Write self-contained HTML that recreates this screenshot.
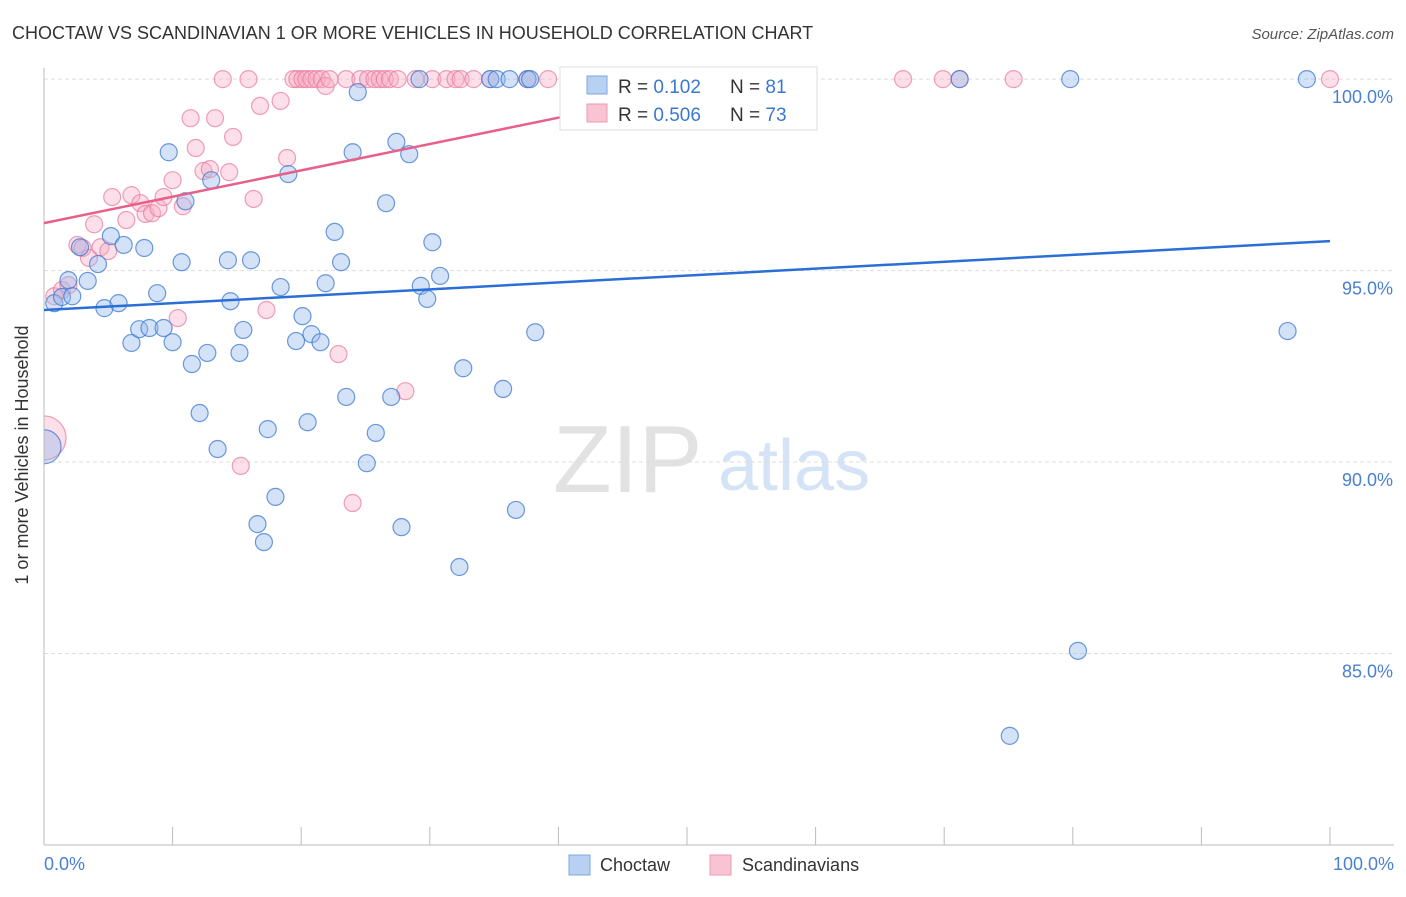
<!DOCTYPE html>
<html><head><meta charset="utf-8"><style>
body{margin:0;background:#fff;font-family:"Liberation Sans",sans-serif;}
svg text{font-family:"Liberation Sans",sans-serif;}
</style></head><body>
<svg width="1406" height="892" viewBox="0 0 1406 892">
<g>
<text x="553" y="492" font-size="96" fill="#e2e2e2" font-family="Liberation Serif, serif">ZIP</text>
<text x="718" y="490" font-size="72" fill="#d4e3f5">atlas</text>
</g>
<g id="grid"></g>
<g id="pts"></g>
<rect x="0" y="60" width="43.5" height="790" fill="#fff"/>
<text x="12" y="39" font-size="18" fill="#333">CHOCTAW VS SCANDINAVIAN 1 OR MORE VEHICLES IN HOUSEHOLD CORRELATION CHART</text>
<text x="1394" y="39" font-size="15" fill="#555" font-style="italic" text-anchor="end">Source: ZipAtlas.com</text>
<line x1="44" y1="68" x2="44" y2="845" stroke="#bbb"/>
<line x1="44" y1="845" x2="1394" y2="845" stroke="#bbb"/>
<g id="xticks"></g>
<text x="28" y="455" font-size="18" fill="#333" text-anchor="middle" transform="rotate(-90 28 455)">1 or more Vehicles in Household</text>
<text x="44" y="870" font-size="18" fill="#4a80d0">0.0%</text>
<text x="1394" y="870" font-size="18" fill="#4a80d0" text-anchor="end">100.0%</text>
<g id="lines"></g>
<g>
<rect x="560" y="67" width="257" height="63" fill="#fff" stroke="#ddd"/>
<rect x="587" y="76" width="20" height="18" fill="#b8d0f2" stroke="#7fa6de"/>
<rect x="587" y="104" width="20" height="18" fill="#f8c4d3" stroke="#ec9ab2"/>
<text x="618" y="93" font-size="19" fill="#333">R = <tspan fill="#3a78d0">0.102</tspan></text>
<text x="730" y="93" font-size="19" fill="#333">N = <tspan fill="#3a78d0">81</tspan></text>
<text x="618" y="121" font-size="19" fill="#333">R = <tspan fill="#3a78d0">0.506</tspan></text>
<text x="730" y="121" font-size="19" fill="#333">N = <tspan fill="#3a78d0">73</tspan></text>
</g>
<g>
<rect x="569" y="855" width="21" height="20" fill="#b8d0f2" stroke="#7fa6de"/>
<text x="600" y="871" font-size="18" fill="#333">Choctaw</text>
<rect x="710" y="855" width="21" height="20" fill="#f8c4d3" stroke="#ec9ab2"/>
<text x="742" y="871" font-size="18" fill="#333">Scandinavians</text>
</g>
</svg>
<script>
const yTicks=[100,95,90,85];
const yTickLabels=["100.0%","95.0%","90.0%","85.0%"];
const xTicks=[0,10,20,30,40,50,60,70,80,90,100];
const blueX=[0.8,1.9,1.4,2.2,2.8,3.4,4.2,4.7,5.2,5.8,6.2,6.8,7.4,7.8,8.2,8.8,9.3,9.7,10.0,10.7,11.0,11.5,12.1,12.7,13.0,13.5,14.3,14.5,15.2,15.5,16.1,16.6,17.1,17.4,18.0,18.4,19.0,19.6,20.1,20.5,20.8,21.5,21.9,22.6,23.1,23.5,24.0,24.4,25.1,25.8,26.6,27.0,27.4,27.8,28.4,29.2,29.3,29.8,30.2,30.8,32.3,32.6,34.7,35.2,35.7,36.2,36.7,37.6,37.8,38.2,71.2,75.1,79.8,80.4,96.7,98.2,0];
const blueY=[94.15,94.75,94.31,94.33,95.61,94.73,95.17,94.02,95.90,94.15,95.67,93.11,93.47,95.59,93.50,94.41,93.50,98.09,93.13,95.22,96.81,92.56,91.28,92.85,97.36,90.34,95.27,94.20,92.85,93.45,95.27,88.38,87.91,90.86,89.09,94.57,97.52,93.16,93.81,91.04,93.34,93.13,94.67,96.01,95.22,91.70,98.09,99.66,89.97,90.76,96.76,91.70,98.36,88.30,98.04,100,94.60,94.26,95.74,94.86,87.26,92.45,100,100,91.91,100,88.75,100,100,93.39,100,82.85,100,85.07,93.42,100,90.40];
const pinkX=[0.8,1.4,1.9,2.6,3.0,3.5,3.9,4.4,5.0,5.3,6.4,6.8,7.5,7.9,8.4,8.9,9.3,10.0,10.4,10.8,11.4,11.8,12.4,12.9,13.3,13.9,14.4,14.7,15.3,15.9,16.3,16.8,17.3,18.4,18.9,19.4,19.7,20.1,20.4,20.8,21.2,21.6,21.9,22.2,22.9,23.5,24.0,24.6,25.2,25.7,26.1,26.5,26.9,27.5,28.1,28.9,30.2,31.3,32.0,32.4,33.4,34.7,37.6,39.2,42.1,46.3,52.6,54.9,66.8,69.9,71.2,75.4,100,0];
const pinkY=[94.33,94.49,94.62,95.67,95.59,95.33,96.21,95.61,95.51,96.92,96.32,96.97,96.76,96.48,96.50,96.63,96.92,97.36,93.76,96.68,98.98,98.20,97.60,97.65,98.98,100,97.57,98.49,89.90,100,96.87,99.30,93.97,99.43,97.94,100,100,100,100,100,100,100,99.82,100,92.82,100,88.93,100,100,100,100,100,100,100,91.85,100,100,100,100,100,100,100,100,100,100,100,100,100,100,100,100,100,100,90.63];
const blueLine=[0,93.97,100,95.77];
const pinkLine=[0,96.24,52.6,99.86];
const NS="http://www.w3.org/2000/svg";
const X0=44,X1=1330,YB=845,YT=68,YMIN=80,YMAX=100.29;
function sx(v){return X0+(X1-X0)*v/100;}
function sy(v){return YB-(YB-YT)*(v-YMIN)/(YMAX-YMIN);}
function mk(t,a){const e=document.createElementNS(NS,t);for(const k in a)e.setAttribute(k,a[k]);return e;}
const grid=document.getElementById('grid');
yTicks.forEach((t,i)=>{
 const l=mk('line',{x1:44,x2:1394,y1:sy(t),y2:sy(t),stroke:'#ddd','stroke-dasharray':'4,3'});
 
 
 grid.appendChild(l);
 const tx=mk('text',{x:1393,y:sy(t)+24,'font-size':18,fill:'#4a80d0','text-anchor':'end'});
 tx.textContent=yTickLabels[i];
 
 
 grid.appendChild(tx);
});
const xt=document.getElementById('xticks');
xTicks.forEach(t=>{
 const l=mk('line',{x1:sx(t),x2:sx(t),y1:827,y2:845,stroke:'#bbb'});
 
 
 xt.appendChild(l);
});
const pts=document.getElementById('pts');
function dot(x,y,big,c){
 const r=big?(c==='b'?17:22):8.5;
 const e=mk('circle',{cx:sx(x),cy:sy(y),r:r,fill:c==='b'?'rgba(150,186,236,0.42)':'rgba(246,170,194,0.38)',stroke:c==='b'?'rgba(60,120,210,0.75)':'rgba(232,120,155,0.7)','stroke-width':1.2});
 return e;
}
pinkX.forEach((x,i)=>{const e=dot(x,pinkY[i],i===pinkX.length-1,'p');
 
 
 pts.appendChild(e);});
blueX.forEach((x,i)=>{const e=dot(x,blueY[i],i===blueX.length-1,'b');
 
 
 pts.appendChild(e);});
const lines=document.getElementById('lines');
const bl=mk('line',{x1:sx(blueLine[0]),y1:sy(blueLine[1]),x2:sx(blueLine[2]),y2:sy(blueLine[3]),stroke:'#2a6fd6','stroke-width':2.5});


lines.appendChild(bl);
const pl=mk('line',{x1:sx(pinkLine[0]),y1:sy(pinkLine[1]),x2:sx(pinkLine[2]),y2:sy(pinkLine[3]),stroke:'#e8608a','stroke-width':2.5});


lines.appendChild(pl);
</script>
</body></html>
